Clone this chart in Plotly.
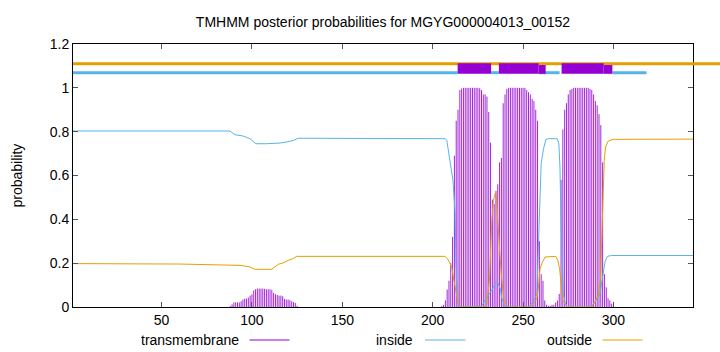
import plotly.graph_objects as go

# ---------------- data ----------------
title_text = "TMHMM posterior probabilities for MGYG000004013_00152"
x_range = [1, 344]
x_ticks = [50, 100, 150, 200, 250, 300]
y_ticks = [0, 0.2, 0.4, 0.6, 0.8, 1.0, 1.2]

series_names = ["transmembrane", "inside", "outside"]
series_colors = ["#9400d3", "#56b4e9", "#e69f00"]

# transmembrane posterior (impulses), residue -> probability
tm_res = list(range(88, 126)) + list(range(205, 301))
tm_val = [
    # 88-125
    0.005, 0.012, 0.021, 0.021, 0.021, 0.021, 0.026, 0.034, 0.038, 0.038,
    0.043, 0.052, 0.058, 0.076, 0.081, 0.084, 0.084, 0.084, 0.084, 0.083,
    0.081, 0.081, 0.081, 0.078, 0.064, 0.058, 0.055, 0.052, 0.052, 0.049,
    0.037, 0.034, 0.034, 0.031, 0.026, 0.022, 0.019, 0.005,
    # 205-300
    0.005, 0.01, 0.03, 0.08, 0.12, 0.20, 0.32, 0.69, 0.85, 0.90,
    0.99, 0.997, 1.0, 1.0, 1.0, 1.0, 1.0, 1.0, 1.0, 1.0,
    1.0, 0.998, 0.99, 0.97, 0.97, 0.96, 0.89, 0.75, 0.49, 0.47,
    0.53, 0.56, 0.66, 0.68, 0.93, 0.97, 0.995, 1.0, 1.0, 1.0,
    1.0, 1.0, 1.0, 1.0, 1.0, 1.0, 1.0, 0.99, 0.98, 0.97,
    0.95, 0.94, 0.90, 0.85, 0.30, 0.15, 0.12, 0.03, 0.01, 0.005,
    0.005, 0.01, 0.01, 0.02, 0.03, 0.06, 0.58, 0.81, 0.90, 0.93,
    0.97, 0.99, 0.995, 1.0, 1.0, 1.0, 1.0, 1.0, 1.0, 1.0,
    1.0, 1.0, 0.995, 0.99, 0.97, 0.94, 0.92, 0.88, 0.83, 0.66,
    0.15, 0.09, 0.04, 0.03, 0.015, 0.005,
]

# inside posterior (line)
inside_x = [1, 60, 87.8, 90.6, 95.2, 98.9, 102.2, 108.1, 115.5, 119.2, 122.9, 125.6,
            206.9, 207.8, 209.2, 210.5, 211.2, 212.4, 212.9, 213.7, 214.5,
            227, 229.9, 232.7, 234.5, 235.8, 237.4, 238.2, 240.1,
            253, 255.7, 257.6, 258.5, 259.3, 260.0, 261.3, 262.6, 264.1,
            268.9, 269.8, 270.4, 270.9, 271.5, 272.2, 273.3, 274.4,
            287, 289.7, 292.5, 294.0, 295.3, 296.6, 299.0, 344]
inside_y = [0.803, 0.803, 0.803, 0.786, 0.780, 0.768, 0.745, 0.745, 0.748, 0.753, 0.760, 0.770,
            0.768, 0.760, 0.685, 0.608, 0.578, 0.43, 0.198, 0.045, 0.0,
            0.003, 0.045, 0.076, 0.107, 0.114, 0.084, 0.04, 0.0,
            0.0, 0.023, 0.061, 0.304, 0.548, 0.654, 0.722, 0.764, 0.768,
            0.768, 0.745, 0.639, 0.43, 0.198, 0.061, 0.018, 0.0,
            0.0, 0.02, 0.06, 0.129, 0.205, 0.231, 0.235, 0.235]

# outside posterior (line)
outside_x = [1, 60, 93.4, 98.9, 101.6, 110.8, 112.7, 114.6, 117.3, 120.1, 122.9, 124.7,
             206.9, 208.2, 209.2, 210.5, 211.7, 212.9, 214.2, 215.4,
             228.5, 229.9, 231.4, 232.7, 233.6, 234.5, 235.1, 236.0, 236.8, 237.9, 239.2, 240.5, 242.0,
             253.9, 255.7, 257.6, 258.5, 259.4, 260.7, 262.2,
             268.1, 269.2, 270.2, 270.9, 271.8, 273.1, 274.4,
             288.0, 289.7, 291.6, 292.8, 293.8, 294.3, 294.9, 295.6, 297.1, 299.8, 344]
outside_y = [0.198, 0.196, 0.19, 0.183, 0.172, 0.172, 0.183, 0.195, 0.201, 0.213, 0.221, 0.231,
             0.231, 0.22, 0.205, 0.182, 0.122, 0.061, 0.015, 0.0,
             0.0, 0.015, 0.122, 0.395, 0.487, 0.517, 0.51, 0.395, 0.274, 0.152, 0.046, 0.012, 0.0,
             0.0, 0.015, 0.038, 0.091, 0.175, 0.205, 0.228,
             0.231, 0.213, 0.175, 0.107, 0.038, 0.012, 0.0,
             0.0, 0.023, 0.053, 0.122, 0.35, 0.532, 0.669, 0.73, 0.757, 0.765, 0.766]

# predicted topology drawn above the curves
topo_outside_start = 1
topo_inside = [[1, 213.8], [232.3, 236.6], [258.6, 270.2], [299.4, 318.3]]
topo_tm = [[213.8, 232.3], [236.6, 258.6], [258.6, 262.5], [271.3, 294.6], [294.6, 299.4]]
topo_tm_step = [False, False, True, False, True]

# ---------------- figure ----------------
FONT = "Liberation Sans, Arial, sans-serif"
FS = 14
W, H = 720, 352
ML, MR, MT, MB = 73, 27, 44, 45

# impulses: one vertical segment per residue
imp_x, imp_y = [], []
for r, v in zip(tm_res, tm_val):
    imp_x += [r, r, None]
    imp_y += [0, v, None]

fig = go.Figure()
fig.add_trace(go.Scatter(x=imp_x, y=imp_y, mode="lines", name=series_names[0],
                         line=dict(color=series_colors[0], width=1), opacity=0.85,
                         showlegend=False, connectgaps=False))
fig.add_trace(go.Scatter(x=inside_x, y=inside_y, mode="lines", name=series_names[1],
                         line=dict(color=series_colors[1], width=1), showlegend=False))
fig.add_trace(go.Scatter(x=outside_x, y=outside_y, mode="lines", name=series_names[2],
                         line=dict(color=series_colors[2], width=1), showlegend=False))

shapes = []
span = x_range[1] - x_range[0]
def to_paper(v):
    return (v - x_range[0]) / span

y_out, y_in = 1.1095, 1.069
# outside line (runs past the right frame)
shapes.append(dict(type="line", xref="paper", yref="paper",
                   x0=to_paper(topo_outside_start), x1=1.1,
                   y0=y_out / 1.2, y1=y_out / 1.2,
                   line=dict(color=series_colors[2], width=3)))
for a, b in topo_inside:
    shapes.append(dict(type="line", xref="x", yref="y", x0=a, x1=b, y0=y_in, y1=y_in,
                       line=dict(color=series_colors[1], width=3)))
for (a, b), step in zip(topo_tm, topo_tm_step):
    shapes.append(dict(type="rect", xref="x", yref="y", x0=a, x1=b,
                       y0=1.064, y1=1.104 if step else 1.112,
                       fillcolor=series_colors[0], line=dict(width=0)))

# legend drawn gnuplot-style: text then sample line
pw = W - ML - MR
ph = H - MT - MB
leg_y_px = 340
leg_y = (H - MB - leg_y_px) / ph
leg_items = [(241.0, 249.5, 289.5), (415.5, 425.0, 465.5), (594.0, 602.5, 642.5)]
annotations = []
for name, color, (tx, l0, l1) in zip(series_names, series_colors, leg_items):
    annotations.append(dict(text=name, xref="paper", yref="paper",
                            x=(tx - ML) / pw, y=leg_y, xanchor="right", yanchor="middle",
                            showarrow=False, font=dict(family=FONT, size=FS, color="#000")))
    shapes.append(dict(type="line", xref="paper", yref="paper",
                       x0=(l0 - ML) / pw, x1=(l1 - ML) / pw, y0=leg_y, y1=leg_y,
                       line=dict(color=color, width=1)))

annotations.append(dict(text="probability", xref="paper", yref="paper",
                        x=(16 - ML) / pw, y=0.5, textangle=-90, xanchor="center",
                        yanchor="middle", showarrow=False,
                        font=dict(family=FONT, size=FS, color="#000")))

fig.update_layout(
    width=W, height=H,
    margin=dict(l=ML, r=MR, t=MT, b=MB, pad=0),
    paper_bgcolor="white", plot_bgcolor="white",
    title=dict(text=title_text, x=(ML + pw / 2) / W, xanchor="center",
               y=1 - 22 / H, yanchor="middle",
               font=dict(family=FONT, size=FS, color="#000")),
    font=dict(family=FONT, size=FS, color="#000"),
    shapes=shapes, annotations=annotations,
    xaxis=dict(range=x_range, tickvals=x_ticks, ticks="inside", ticklen=5,
               tickcolor="#555", showline=True, linecolor="#000", linewidth=1,
               mirror="ticks", showgrid=False, zeroline=False,
               tickfont=dict(family=FONT, size=FS, color="#000")),
    yaxis=dict(range=[0, 1.2], tickvals=y_ticks, ticks="inside", ticklen=5,
               tickcolor="#555", showline=True, linecolor="#000", linewidth=1,
               mirror="ticks", showgrid=False, zeroline=False,
               tickfont=dict(family=FONT, size=FS, color="#000")),
)

fig.write_html("out.html")
